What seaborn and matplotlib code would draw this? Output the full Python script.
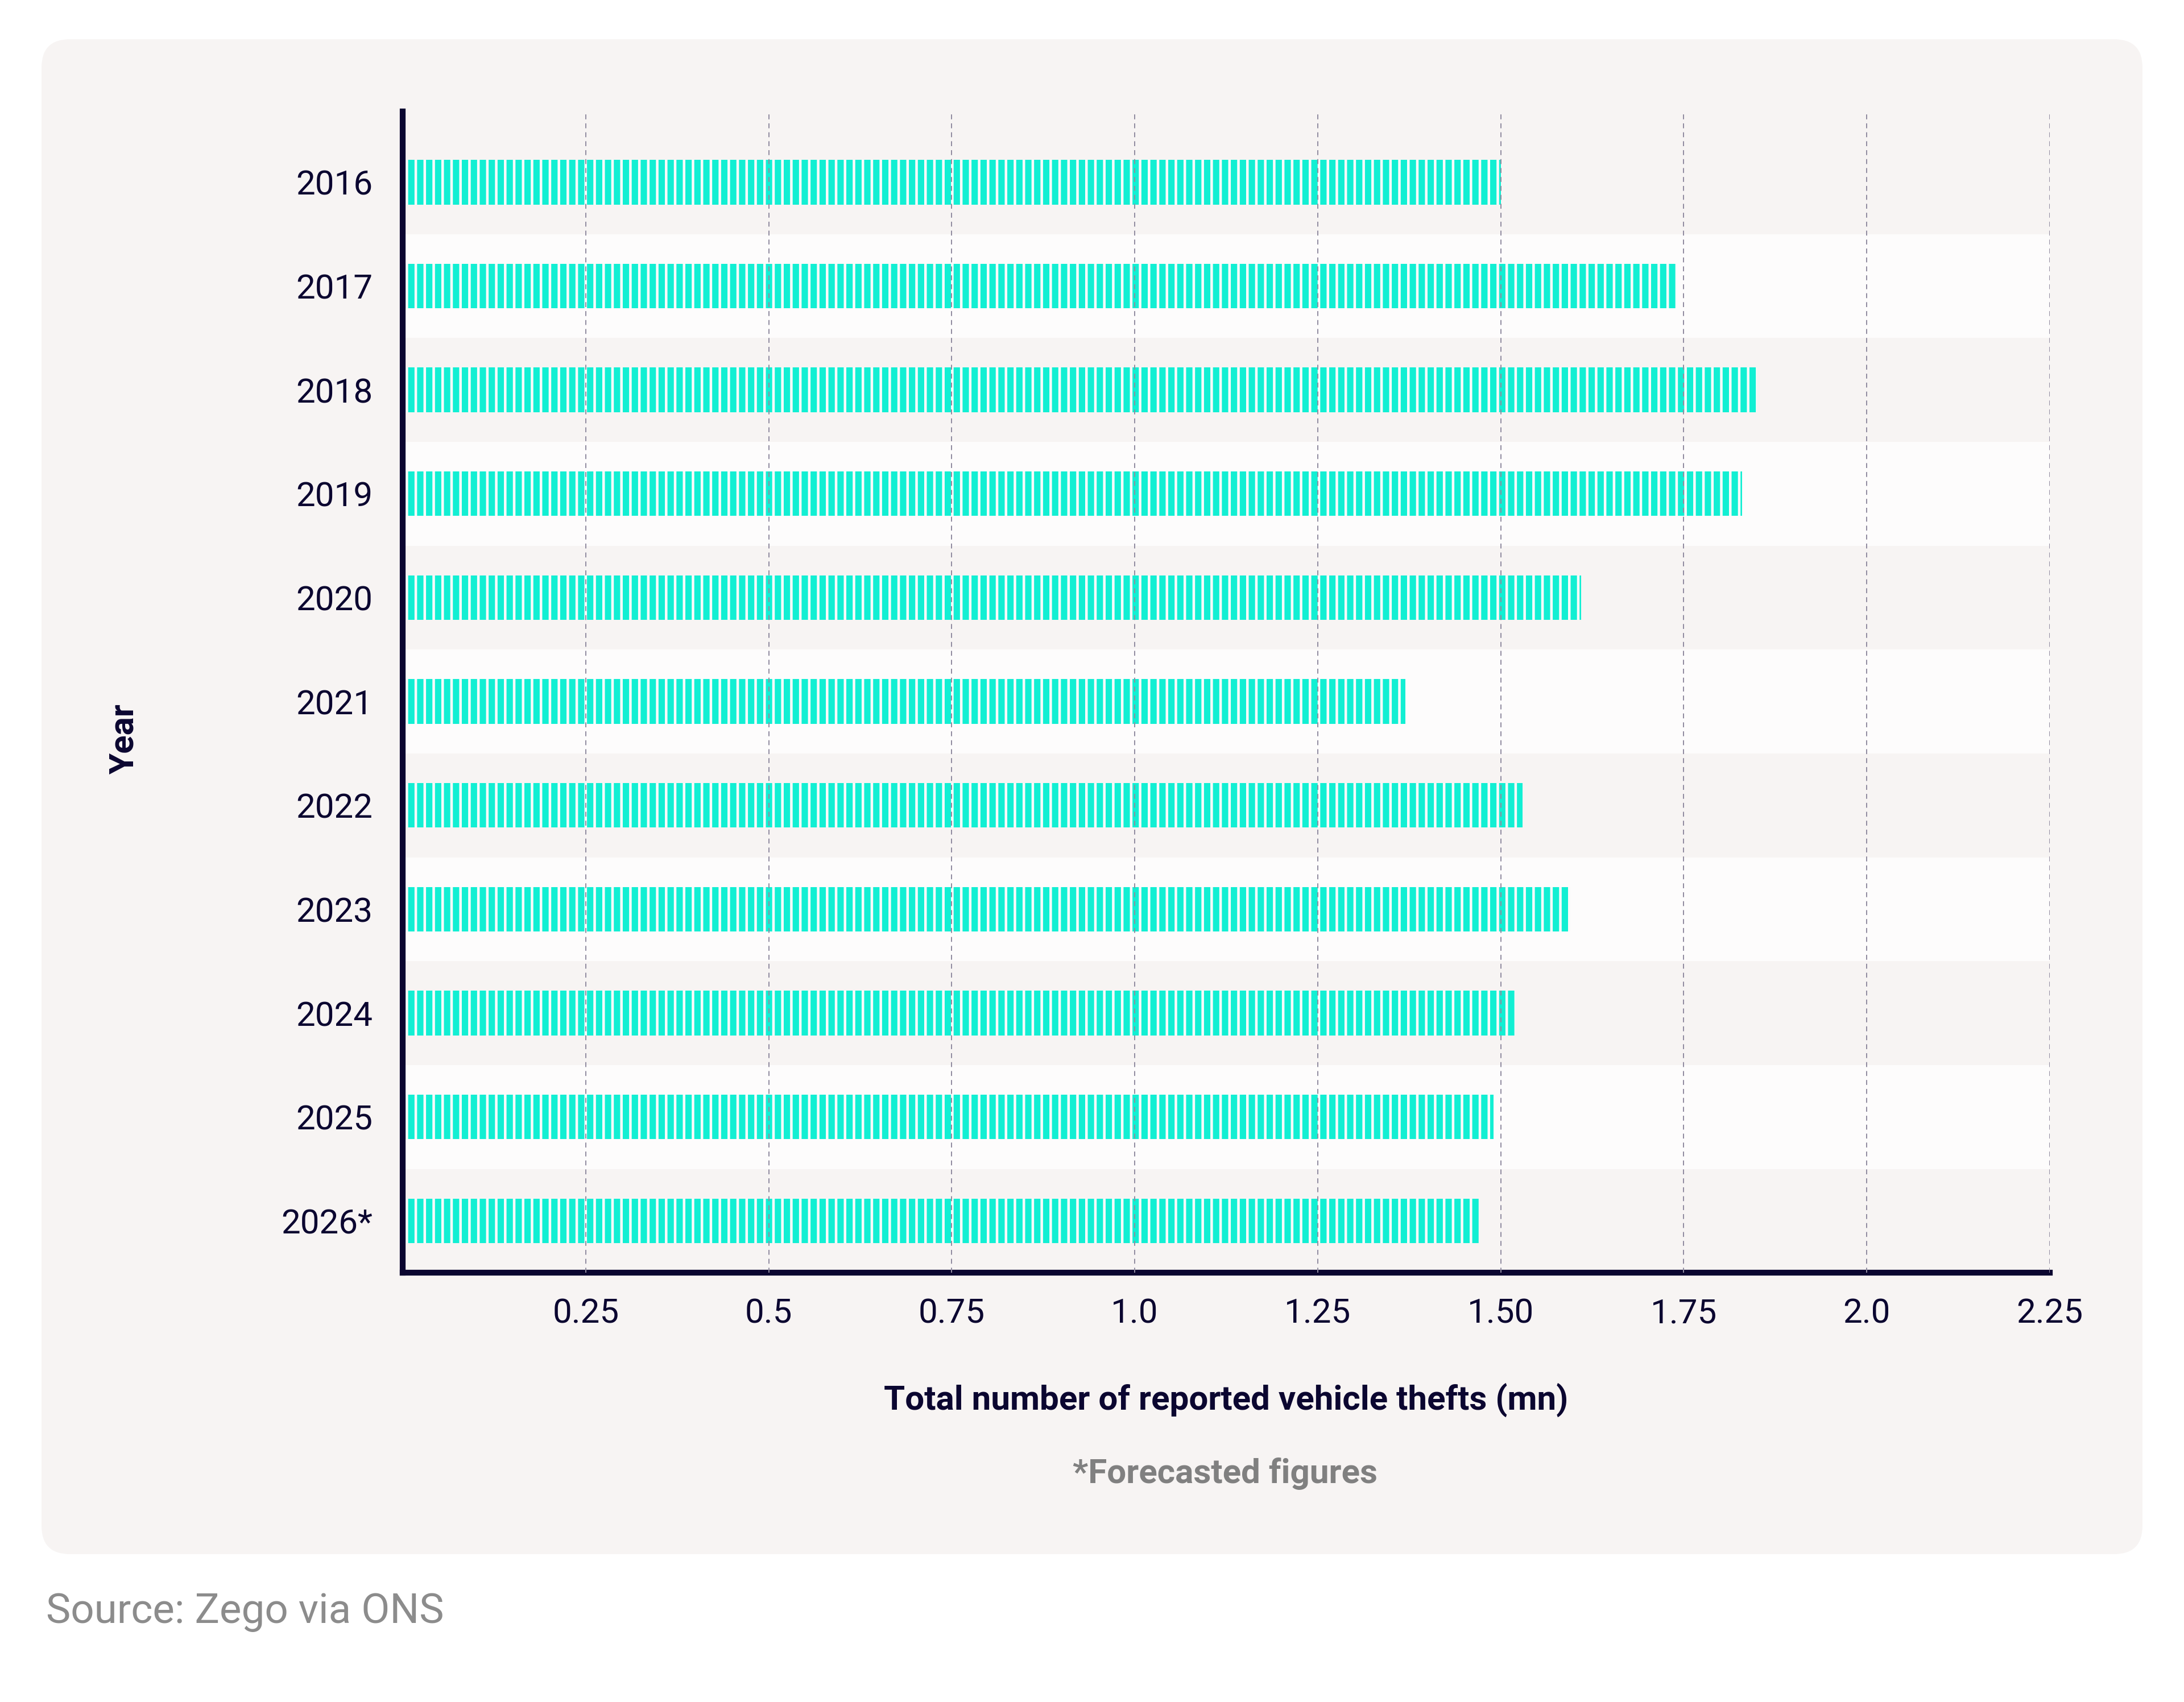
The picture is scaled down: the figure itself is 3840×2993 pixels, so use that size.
import matplotlib
matplotlib.use('Agg')
import matplotlib.pyplot as plt
from matplotlib.patches import FancyBboxPatch
import seaborn as sns

# data (millions of reported thefts)
years = ['2016', '2017', '2018', '2019', '2020', '2021',
         '2022', '2023', '2024', '2025', '2026*']
thefts = [1.50, 1.74, 1.85, 1.83, 1.61, 1.37, 1.53, 1.595, 1.52, 1.49, 1.47]
tick_vals = [0.25, 0.5, 0.75, 1.0, 1.25, 1.5, 1.75, 2.0, 2.25]
tick_labels = ['0.25', '0.5', '0.75', '1.0', '1.25', '1.50', '1.75', '2.0', '2.25']

navy = '#0B0630'
teal = '#12EFD3'
card_bg = '#F7F4F3'
band_bg = '#FDFCFC'

sns.set_theme(style='white')
plt.rcParams['font.family'] = ['Roboto', 'DejaVu Sans']
plt.rcParams['hatch.linewidth'] = 1.15
plt.rcParams['lines.scale_dashes'] = False

DPI = 283
fig = plt.figure(figsize=(3840 / DPI, 2993 / DPI), dpi=DPI, facecolor='white')

# rounded card behind the chart (pixel coords)
card = FancyBboxPatch((73, 260), 3694, 2664, boxstyle='round,pad=0,rounding_size=50',
                      transform=None, fc=card_bg, ec='none', zorder=-10)
fig.add_artist(card)

ax = fig.add_axes([0.1844, 0.2522, 0.7541, 0.6823])
ax.set_facecolor(card_bg)

## alternating row bands
for i in range(1, len(years), 2):
    ax.axhspan(i - 0.5, i + 0.5, color=band_bg, lw=0, zorder=0)

sns.barplot(x=thefts, y=years, orient='h', color=teal, saturation=1, width=0.43,
            hatch='|||', edgecolor='#FBFAFA', linewidth=0, ax=ax, zorder=1)

ax.set_xlim(0, 2.25)
ax.set_ylim(10.5, -0.68)
ax.set_xticks(tick_vals, tick_labels)
ax.tick_params(axis='both', length=0, labelsize=15.3, colors=navy)
ax.tick_params(axis='x', pad=11)
ax.tick_params(axis='y', pad=13.5)

ax.grid(axis='x', color='#918CA0', lw=0.5, ls=(0, (2.2, 1.8)))
ax.grid(axis='y', visible=False)
ax.set_axisbelow(False)

for side in ['top', 'right']:
    ax.spines[side].set_visible(False)
for side in ['left', 'bottom']:
    ax.spines[side].set_linewidth(2.6)
    ax.spines[side].set_color(navy)

ax.set_ylabel('Year', fontweight='bold', fontsize=15.3, color=navy, va='center')
ax.yaxis.set_label_coords(-0.169, 0.46)
ax.set_xlabel('Total number of reported vehicle thefts (mn)', fontweight='bold',
              fontsize=15.3, color=navy, va='center')
ax.xaxis.set_label_coords(0.5, -0.11)

fig.text(0.561, 0.1343, '*Forecasted figures', ha='center', va='center',
         fontsize=15.3, fontweight='bold', color='#808080')
fig.text(0.0211, 0.0525, 'Source: Zego via ONS', ha='left', va='center',
         fontsize=18.5, color='#8C8C8C')

plt.savefig('out.png', dpi=DPI, facecolor='white')
